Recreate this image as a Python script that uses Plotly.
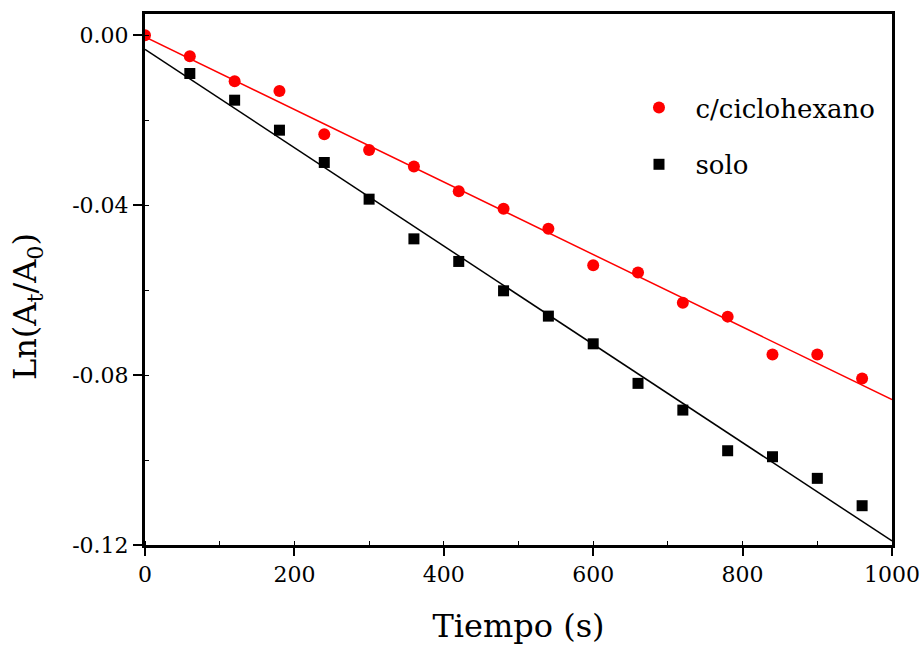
import numpy as np
import plotly.graph_objects as go

# Time (s) and ln(At/A0) for each run
tiempo_ciclohexano = [0, 60, 120, 180, 240, 300, 360, 420, 480, 540, 600, 660, 720, 780, 840, 900, 960]
ln_ciclohexano = [0.0, -0.00494, -0.01082, -0.01311, -0.02329, -0.02699, -0.03089, -0.03671,
                  -0.04087, -0.04558, -0.05412, -0.05584, -0.0630, -0.06624, -0.07513, -0.07513, -0.08078]

tiempo_solo = [60, 120, 180, 240, 300, 360, 420, 480, 540, 600, 660, 720, 780, 840, 900, 960]
ln_solo = [-0.00901, -0.01529, -0.02235, -0.02995, -0.03859, -0.04793, -0.05325, -0.06016,
           -0.06612, -0.07264, -0.08195, -0.08824, -0.09781, -0.09922, -0.10431, -0.11075]

# Axis ticks (plain hyphen for the minus sign)
y_tick_vals = [0.0, -0.04, -0.08, -0.12]
y_tick_text = ["0.00", "-0.04", "-0.08", "-0.12"]

x_range = [0, 1000]
y_range = [-0.12, 0.005]

FONT = "DejaVu Serif"

# Least-squares straight lines through each series
m_c, b_c = np.polyfit(tiempo_ciclohexano, ln_ciclohexano, 1)
m_s, b_s = np.polyfit(tiempo_solo, ln_solo, 1)
x_fit = np.array(x_range, dtype=float)

fig = go.Figure()

fig.add_trace(go.Scatter(
    x=x_fit, y=m_c * x_fit + b_c, mode="lines",
    line=dict(color="#ff0000", width=1.5), showlegend=False, hoverinfo="skip"))
fig.add_trace(go.Scatter(
    x=x_fit, y=m_s * x_fit + b_s, mode="lines",
    line=dict(color="#000000", width=1.5), showlegend=False, hoverinfo="skip"))

fig.add_trace(go.Scatter(
    x=tiempo_ciclohexano, y=ln_ciclohexano, mode="markers",
    name="\u00a0\u00a0c/ciclohexano", legendgroup="c",
    marker=dict(symbol="circle", size=12, color="#ff0000")))
fig.add_trace(go.Scatter(
    x=tiempo_solo, y=ln_solo, mode="markers",
    name="\u00a0\u00a0solo", legendgroup="s",
    marker=dict(symbol="square", size=11, color="#000000")))

fig.update_layout(
    width=923, height=649,
    margin=dict(l=145, r=31, t=14, b=104),
    paper_bgcolor="white", plot_bgcolor="white",
    font=dict(family=FONT, color="black", size=22),
    legend=dict(x=0.6613, y=0.868, xanchor="left", yanchor="top",
                font=dict(family=FONT, size=26, color="black"),
                bgcolor="rgba(0,0,0,0)", traceorder="grouped", tracegroupgap=20),
)

# y-axis label, set slightly below the axis midpoint
fig.add_annotation(
    text="Ln(A<sub>t</sub>/A<sub>0</sub>)", textangle=-90,
    xref="paper", yref="paper", x=-0.158, y=0.45,
    xanchor="center", yanchor="middle", showarrow=False,
    font=dict(family=FONT, size=32, color="black"),
)

fig.update_xaxes(
    range=x_range, dtick=200, tick0=0, automargin=False,
    showline=True, linewidth=3, linecolor="black", mirror=True,
    ticks="outside", ticklen=8, tickwidth=2, tickcolor="black",
    minor=dict(dtick=100, ticks="inside", ticklen=4, tickwidth=1, tickcolor="black"),
    showgrid=False, zeroline=False,
    tickfont=dict(family=FONT, size=22),
    title=dict(text="Tiempo (s)", font=dict(family=FONT, size=32), standoff=29),
)
fig.update_yaxes(
    range=y_range, tickmode="array", tickvals=y_tick_vals, ticktext=y_tick_text,
    automargin=False,
    showline=True, linewidth=3, linecolor="black", mirror=True,
    ticks="outside", ticklen=9, tickwidth=2, tickcolor="black",
    minor=dict(tickmode="linear", tick0=0, dtick=0.02, ticks="inside", ticklen=4,
               tickwidth=1, tickcolor="black"),
    showgrid=False, zeroline=False,
    tickfont=dict(family=FONT, size=22),
)

fig.write_html("out.html")
